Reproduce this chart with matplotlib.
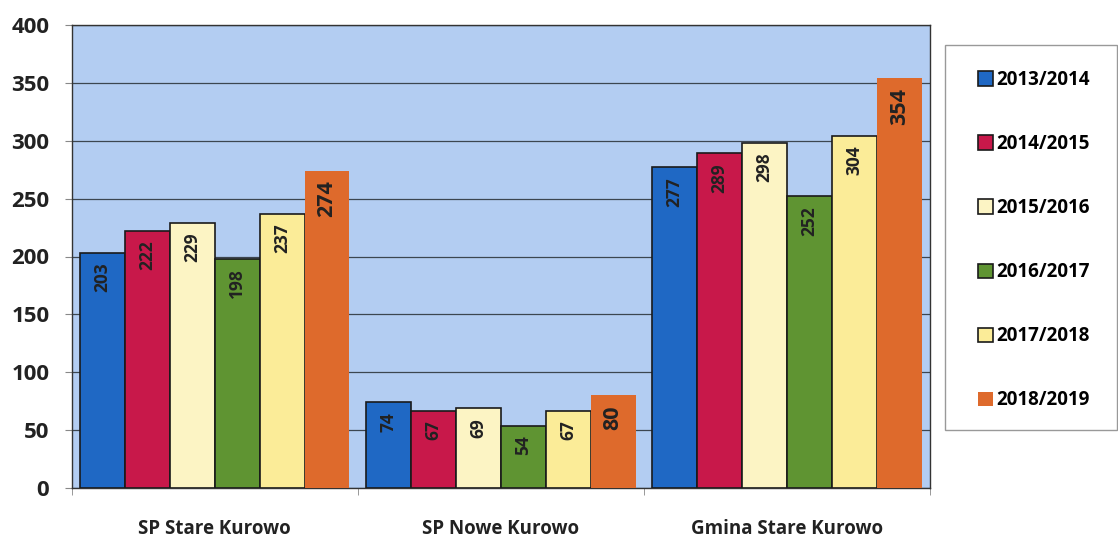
import matplotlib.pyplot as plt
from matplotlib.patches import Rectangle
import numpy as np

categories = ['SP Stare Kurowo', 'SP Nowe Kurowo', 'Gmina Stare Kurowo']
years = ['2013/2014', '2014/2015', '2015/2016', '2016/2017', '2017/2018', '2018/2019']
values = [
    [203, 74, 277],   # 2013/2014
    [222, 67, 289],   # 2014/2015
    [229, 69, 298],   # 2015/2016
    [198, 54, 252],   # 2016/2017
    [237, 67, 304],   # 2017/2018
    [274, 80, 354],   # 2018/2019
]
colors = ['#1f68c4', '#c8184a', '#fcf4c4', '#5f9432', '#fbec98', '#de6a2c']
edges = ['#1a1a1a'] * 5 + ['none']

plt.rcParams['font.family'] = ['Open Sans', 'DejaVu Sans']

fig = plt.figure(figsize=(11.18, 5.4), dpi=100)
ax = fig.add_axes([0.064, 0.096, 0.768, 0.858])
ax.set_facecolor('#b3cdf2')

x = np.arange(len(categories))
w = 0.157
for i, (yr, vals) in enumerate(zip(years, values)):
    pos = x + (i - 2.5) * w
    ax.bar(pos, vals, w, color=colors[i], edgecolor=edges[i], linewidth=1.2,
           label=yr, zorder=3)
    big = i == 5
    for p, v in zip(pos, vals):
        ax.annotate(str(v), (p, v), xytext=(0, -7),
                    textcoords='offset points', rotation=90, ha='center', va='top',
                    fontsize=15.5 if big else 12.5, fontweight='bold',
                    color='#222222', zorder=4)

ax.set_ylim(0, 400)
ax.set_xlim(-0.5, 2.5)
ax.set_yticks(range(0, 401, 50))
ax.yaxis.grid(True, color='#3c4650', linewidth=0.9, zorder=0)
ax.set_xticks(x)
ax.set_xticklabels(categories, fontsize=13.5, fontweight='bold', color='#222222')
ax.set_xticks([-0.5, 0.5, 1.5, 2.5], minor=True)
ax.tick_params(axis='x', which='major', length=0, pad=22)
ax.tick_params(axis='x', which='minor', length=5, color='#888888')
ax.tick_params(axis='y', labelsize=16, length=5, pad=11, color='#888888',
               labelcolor='#222222')
for lbl in ax.get_yticklabels():
    lbl.set_fontweight('bold')
for s in ax.spines.values():
    s.set_color('#333333')
    s.set_linewidth(1.0)

# legend box drawn separately so the padding can be set on each side
fig.patches.append(Rectangle((945 / 1118, 1 - 430 / 540), 172 / 1118, 385 / 540,
                             transform=fig.transFigure, facecolor='white',
                             edgecolor='#999999', linewidth=1.0))
fig.legend(loc='upper left', bbox_to_anchor=(978 / 1118, 1 - 70 / 540),
           frameon=False, prop={'weight': 'bold', 'size': 13.5},
           handlelength=0.8, handleheight=0.8, handletextpad=0.2,
           labelspacing=2.35, borderpad=0, borderaxespad=0)

fig.savefig('out.png', dpi=100, facecolor='white')
